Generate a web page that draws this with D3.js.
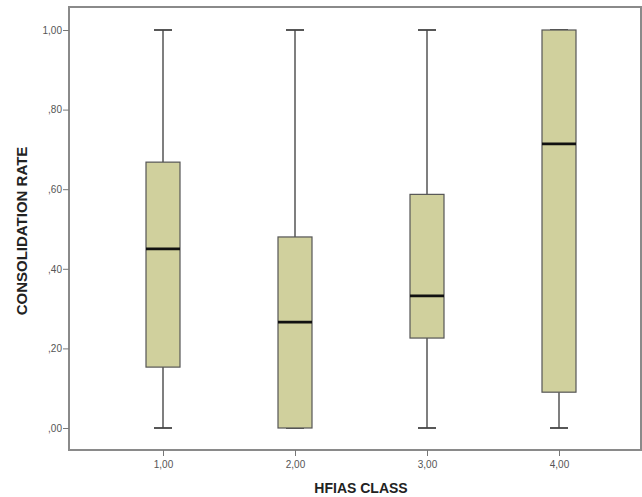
<!DOCTYPE html>
<html>
<head>
<meta charset="utf-8">
<script src="https://cdn.jsdelivr.net/npm/d3@7"></script>
<style>
  body { margin: 0; background: #fff; }
  svg { display: block; font-family: "Liberation Sans", Arial, sans-serif; }
</style>
</head>
<body>
<script>
// HFIAS class boxplot data
var classes = ["1,00", "2,00", "3,00", "4,00"];
var whiskLow = [0, 0, 0, 0];
var q1 = [0.153, 0.0, 0.226, 0.09];
var median = [0.45, 0.266, 0.332, 0.714];
var q3 = [0.668, 0.48, 0.587, 1.0];
var whiskHigh = [1.0, 1.0, 1.0, 1.0];
var yTicks = [0, 0.2, 0.4, 0.6, 0.8, 1.0];

var width = 642, height = 497,
    frame = {left: 69, top: 7, right: 641, bottom: 450};

var y = d3.scaleLinear().domain([0, 1]).range([428, 30]);
var x = d3.scalePoint().domain(classes).range([163, 559]);

var boxW = 34, capW = 18;

var svg = d3.select("body").append("svg").attr("width", width).attr("height", height);

// frame
svg.append("rect")
  .attr("x", frame.left).attr("y", frame.top)
  .attr("width", frame.right - frame.left).attr("height", frame.bottom - frame.top)
  .attr("fill", "none").attr("stroke", "#8a8a8a").attr("stroke-width", 2);

var fmt = function(d){
  var s = d3.format(".2f")(d).replace(".", ",");
  return s.charAt(0) === "0" ? s.slice(1) : s;
};

// y axis
var yAxis = d3.axisLeft(y).tickValues(yTicks).tickSize(6).tickSizeOuter(0).tickFormat(fmt);
var gy = svg.append("g").attr("transform", "translate(" + frame.left + ",0)").call(yAxis);
gy.select(".domain").remove();
gy.selectAll(".tick line").attr("stroke", "#777");
gy.selectAll(".tick text").attr("fill", "#555").attr("font-size", 10).attr("x", -7);

// x axis
var xAxis = d3.axisBottom(x).tickSize(6).tickSizeOuter(0);
var gx = svg.append("g").attr("transform", "translate(0," + frame.bottom + ")").call(xAxis);
gx.select(".domain").remove();
gx.selectAll(".tick line").attr("stroke", "#777");
gx.selectAll(".tick text").attr("fill", "#555").attr("font-size", 10).attr("y", 11);

var idx = d3.range(classes.length);
var g = svg.append("g");

// whiskers
g.selectAll("line.wl").data(idx).enter().append("line")
  .attr("x1", function(i){ return x(classes[i]); })
  .attr("x2", function(i){ return x(classes[i]); })
  .attr("y1", function(i){ return y(whiskLow[i]); })
  .attr("y2", function(i){ return y(q1[i]); })
  .attr("stroke", "#555").attr("stroke-width", 1.5);
g.selectAll("line.wh").data(idx).enter().append("line")
  .attr("x1", function(i){ return x(classes[i]); })
  .attr("x2", function(i){ return x(classes[i]); })
  .attr("y1", function(i){ return y(q3[i]); })
  .attr("y2", function(i){ return y(whiskHigh[i]); })
  .attr("stroke", "#555").attr("stroke-width", 1.5);

// caps
[whiskLow, whiskHigh].forEach(function(arr){
  g.selectAll(null).data(idx).enter().append("line")
    .attr("x1", function(i){ return x(classes[i]) - capW/2; })
    .attr("x2", function(i){ return x(classes[i]) + capW/2; })
    .attr("y1", function(i){ return y(arr[i]); })
    .attr("y2", function(i){ return y(arr[i]); })
    .attr("stroke", "#444").attr("stroke-width", 1.8);
});

// boxes
g.selectAll("rect.box").data(idx).enter().append("rect")
  .attr("x", function(i){ return x(classes[i]) - boxW/2; })
  .attr("y", function(i){ return y(q3[i]); })
  .attr("width", boxW)
  .attr("height", function(i){ return y(q1[i]) - y(q3[i]); })
  .attr("fill", "#d0d09d").attr("stroke", "#555").attr("stroke-width", 1.2);

// medians
g.selectAll("line.med").data(idx).enter().append("line")
  .attr("x1", function(i){ return x(classes[i]) - boxW/2; })
  .attr("x2", function(i){ return x(classes[i]) + boxW/2; })
  .attr("y1", function(i){ return y(median[i]); })
  .attr("y2", function(i){ return y(median[i]); })
  .attr("stroke", "#111").attr("stroke-width", 2.6);

// axis titles
svg.append("text")
  .attr("x", 361).attr("y", 493)
  .attr("text-anchor", "middle")
  .attr("font-size", 14).attr("font-weight", "bold").attr("fill", "#222")
  .text("HFIAS CLASS");

svg.append("text")
  .attr("transform", "translate(27,231) rotate(-90)")
  .attr("text-anchor", "middle")
  .attr("font-size", 15).attr("font-weight", "bold").attr("fill", "#222")
  .text("CONSOLIDATION RATE");
</script>
</body>
</html>
